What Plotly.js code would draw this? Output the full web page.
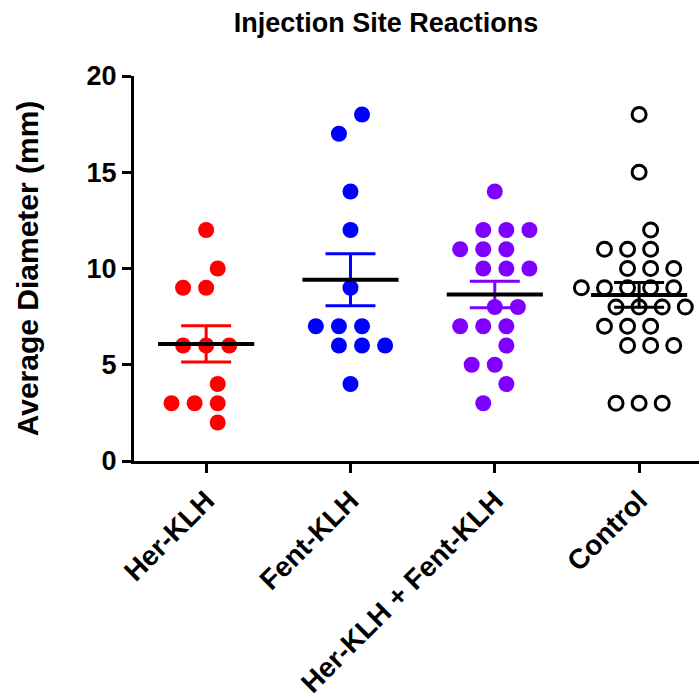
<!DOCTYPE html>
<html>
<head>
<meta charset="utf-8">
<script src="https://cdn.plot.ly/plotly-3.0.1.min.js"></script>
<style>
  html, body { margin: 0; padding: 0; background: #fff; }
  #chart { width: 699px; height: 698px; }
</style>
</head>
<body>
<div id="chart"></div>
<script>
// Groups on the x axis
const categories = ['Her-KLH', 'Fent-KLH', 'Her-KLH + Fent-KLH', 'Control'];

// Average diameter (mm) of each animal, one array per group
const herKLH = [12, 10, 9, 9, 6, 6, 6, 4, 3, 3, 3, 2];
const fentKLH = [18, 17, 14, 12, 9, 7, 7, 7, 6, 6, 6, 4];
const herFentKLH = [14, 12, 12, 12, 11, 11, 11, 10, 10, 10, 8, 8, 7, 7, 7, 6, 5, 5, 4, 3];
const control = [18, 15, 12, 11, 11, 11, 10, 10, 10, 9, 9, 9, 9, 9, 8, 8, 8, 8, 7, 7, 7, 6, 6, 6, 3, 3, 3];

const groups = [herKLH, fentKLH, herFentKLH, control];
const colors = ['#FF0000', '#0000FF', '#8000FF', '#000000'];
const openMarker = [false, false, false, true];

// Horizontal spacing of neighbouring dots, in category units
const SLOT = 0.16;

// Column-scatter layout: equal values side by side, neighbouring rows staggered
function spread(values) {
  const counts = {};
  values.forEach(v => { counts[v] = (counts[v] || 0) + 1; });
  const seen = {};
  return values.map(v => {
    const n = counts[v];
    const i = seen[v] = (seen[v] === undefined ? 0 : seen[v] + 1);
    let pos = i - (n - 1) / 2;
    if (counts[v + 1] || counts[v - 1]) pos += (v % 2 ? -0.5 : 0.5);
    return pos * SLOT;
  });
}

function mean(a) { return a.reduce((s, v) => s + v, 0) / a.length; }
function sem(a) {
  const m = mean(a);
  const ss = a.reduce((s, v) => s + (v - m) * (v - m), 0);
  return Math.sqrt(ss / (a.length - 1)) / Math.sqrt(a.length);
}

const traces = [];

// individual animals
groups.forEach((vals, g) => {
  const offs = spread(vals);
  traces.push({
    type: 'scatter',
    mode: 'markers',
    x: vals.map((v, k) => g + offs[k]),
    y: vals,
    hoverinfo: 'y',
    marker: openMarker[g]
      ? { symbol: 'circle-open', size: 14, color: colors[g], line: { width: 3, color: colors[g] } }
      : { symbol: 'circle', size: 16, color: colors[g], line: { width: 0 } },
    showlegend: false
  });
});

// SEM whiskers
groups.forEach((vals, g) => {
  traces.push({
    type: 'scatter',
    mode: 'markers',
    x: [g],
    y: [mean(vals)],
    marker: { size: 1, opacity: 0 },
    error_y: { type: 'data', array: [sem(vals)], visible: true, color: colors[g], thickness: 3, width: 25 },
    hoverinfo: 'skip',
    showlegend: false
  });
});

// group means
groups.forEach((vals, g) => {
  const m = mean(vals);
  traces.push({
    type: 'scatter',
    mode: 'lines',
    x: [g - 0.333, g + 0.333],
    y: [m, m],
    line: { color: '#000', width: 4 },
    hoverinfo: 'skip',
    showlegend: false
  });
});

const boldFont = (size) => ({ family: 'Liberation Sans, Arial, sans-serif', size: size, color: '#000', weight: 'bold' });

const layout = {
  width: 699,
  height: 698,
  margin: { l: 134, r: 0, t: 76, b: 237 },
  paper_bgcolor: '#fff',
  plot_bgcolor: '#fff',
  title: {
    text: 'Injection Site Reactions',
    font: boldFont(27),
    xref: 'paper', x: 0.446, xanchor: 'center',
    yref: 'container', y: 0.968, yanchor: 'middle'
  },
  xaxis: {
    range: [-0.5, 3.415],
    tickmode: 'array',
    tickvals: [0, 1, 2, 3],
    ticktext: categories,
    tickangle: -45,
    tickfont: boldFont(28),
    ticks: 'outside', ticklen: 9, tickwidth: 3, tickcolor: '#000',
    showline: true, linecolor: '#000', linewidth: 3,
    showgrid: false, zeroline: false, fixedrange: true
  },
  yaxis: {
    range: [0, 20],
    tickmode: 'linear', tick0: 0, dtick: 5,
    tickfont: boldFont(27),
    ticks: 'outside', ticklen: 9, tickwidth: 3, tickcolor: '#000',
    showline: true, linecolor: '#000', linewidth: 3,
    showgrid: false, zeroline: false, fixedrange: true,
    title: { text: 'Average Diameter (mm)', font: boldFont(30), standoff: 40 }
  }
};

Plotly.newPlot('chart', traces, layout, { displayModeBar: false, staticPlot: true });
</script>
</body>
</html>
